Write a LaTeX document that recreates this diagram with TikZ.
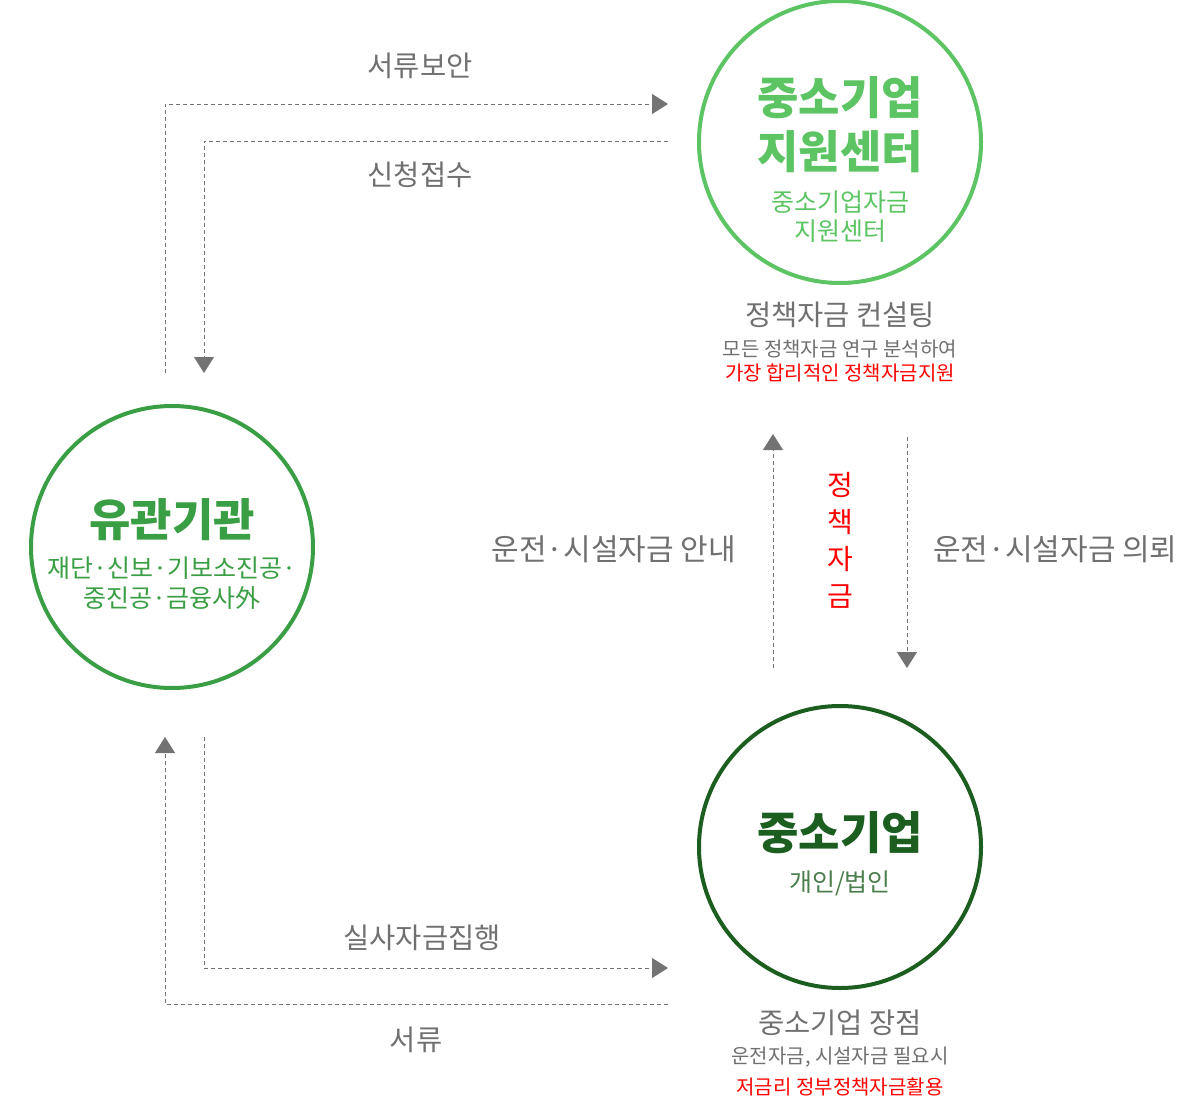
\documentclass[tikz,border=0pt]{standalone}
\usepackage{fontspec}
\setmainfont{Noto Sans CJK KR}
\usetikzlibrary{arrows.meta}
\definecolor{gtxt}{HTML}{707070}
\definecolor{garr}{HTML}{737373}
\definecolor{lgreen}{HTML}{5CC463}
\definecolor{mgreen}{HTML}{3A9E44}
\definecolor{dgreen}{HTML}{1B5E20}
\definecolor{sgreen}{HTML}{4C7D4C}
\definecolor{kred}{HTML}{FF0000}
\tikzset{
  ring/.style={circle, draw=#1, line width=4pt, minimum size=282pt, inner sep=0pt},
  flow/.style={draw=garr, line width=0.9pt, dash pattern=on 4pt off 3pt},
  flowarr/.style={flow, -{Triangle[length=16pt,width=20pt,fill=garr]}},
  lbl/.style={text=gtxt, font=\fontsize{28.5}{34}\selectfont, inner sep=0pt},
  sidelbl/.style={text=gtxt, font=\fontsize{30}{34}\selectfont, inner sep=0pt},
  sml/.style={text=gtxt, font=\fontsize{20}{24}\selectfont, inner sep=0pt},
  redl/.style={text=kred, font=\fontsize{20}{24}\selectfont, inner sep=0pt},
}
\begin{document}
\begin{tikzpicture}[x=1pt,y=-1pt]
\useasboundingbox (0,0) rectangle (1200,1110);
% circles
\node[ring=lgreen] (ctr) at (840,142) {};
\node[ring=mgreen] (org) at (172,547) {};
\node[ring=dgreen] (smb) at (840,847) {};
% circle texts
\node[text=lgreen, font=\fontsize{45}{54}\bfseries\selectfont, align=center, inner sep=0pt] (ctrT) at (840,125) {중소기업\\지원센터};
\node[text=lgreen, font=\fontsize{25}{29}\selectfont, align=center, inner sep=0pt] (ctrS) at (840,217) {중소기업자금\\지원센터};
\node[text=mgreen, font=\fontsize{45}{54}\bfseries\selectfont, inner sep=0pt] (orgT) at (172,520) {유관기관};
\node[text=mgreen, font=\fontsize{25}{30}\selectfont, align=center, inner sep=0pt] (orgS) at (172,583) {재단·신보·기보소진공·\\중진공·금융사外};
\node[text=dgreen, font=\fontsize{45}{54}\bfseries\selectfont, inner sep=0pt] (smbT) at (840,833) {중소기업};
\node[text=sgreen, font=\fontsize{25}{29}\selectfont, inner sep=0pt] (smbS) at (840,883) {개인/법인};
% texts under circles
\node[lbl] (t1) at (840,315) {정책자금 컨설팅};
\node[sml] (t2) at (840,349) {모든 정책자금 연구 분석하여};
\node[redl] (t3) at (840,373) {가장 합리적인 정책자금지원};
\node[lbl] (b1) at (840,1023) {중소기업 장점};
\node[sml] (b2) at (840,1057) {운전자금, 시설자금 필요시};
\node[redl] (b3) at (840,1087) {저금리 정부정책자금활용};
% flow labels
\node[lbl] (l1) at (420,66) {서류보안};
\node[lbl] (l2) at (420,175) {신청접수};
\node[lbl] (l3) at (422,938) {실사자금집행};
\node[lbl] (l4) at (416,1040) {서류};
\node[sidelbl, anchor=east] (l5) at (736,549) {운전·시설자금 안내};
\node[sidelbl, anchor=west] (l6) at (933,549) {운전·시설자금 의뢰};
\node[text=kred, font=\fontsize{28}{37}\selectfont, align=center, inner sep=0pt] (l7) at (840,540) {정\\책\\자\\금};
% coordinates for connector ends
\coordinate (a1s) at (165,373);
\coordinate (a1c) at (165,104);
\coordinate (a1e) at (668,104);
\coordinate (a2s) at (668,141);
\coordinate (a2c) at (204,141);
\coordinate (a2e) at (204,373);
\coordinate (a3s) at (773,668);
\coordinate (a3e) at (773,434);
\coordinate (a4s) at (907,437);
\coordinate (a4e) at (907,668);
\coordinate (a5s) at (204,737);
\coordinate (a5c) at (204,968);
\coordinate (a5e) at (668,968);
\coordinate (a6s) at (668,1004);
\coordinate (a6c) at (165,1004);
\coordinate (a6e) at (165,737);
% connectors
\draw[flowarr] (a1s) -- (a1c) -- (a1e);
\draw[flowarr] (a2s) -- (a2c) -- (a2e);
\draw[flowarr] (a3s) -- (a3e);
\draw[flowarr] (a4s) -- (a4e);
\draw[flowarr] (a5s) -- (a5c) -- (a5e);
\draw[flowarr] (a6s) -- (a6c) -- (a6e);
\end{tikzpicture}
\end{document}
